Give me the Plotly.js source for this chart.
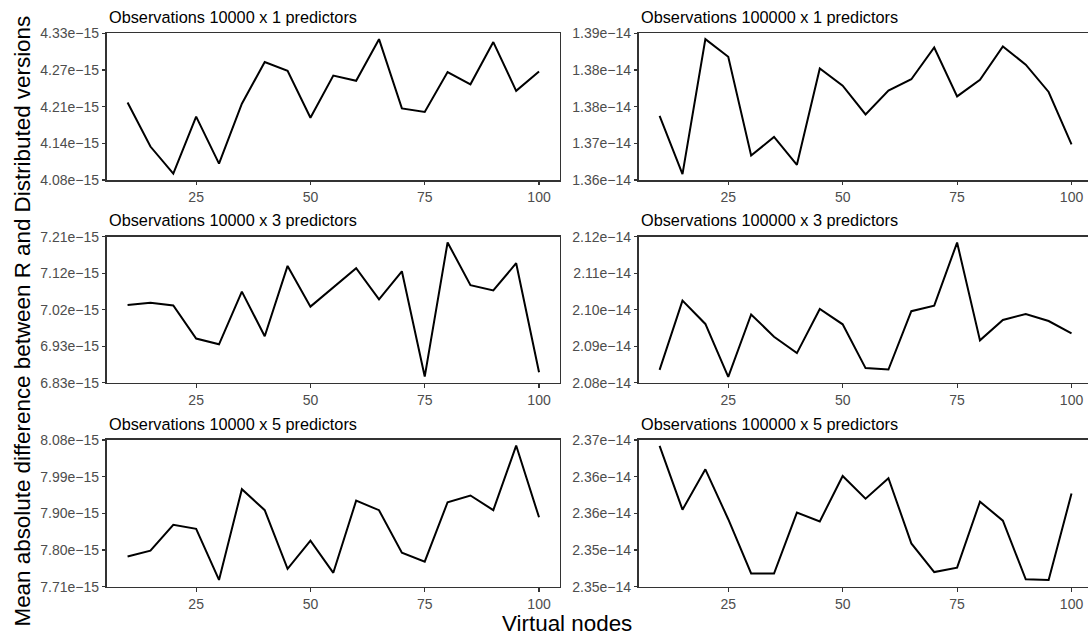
<!DOCTYPE html>
<html>
<head>
<meta charset="utf-8">
<script src="https://cdn.plot.ly/plotly-3.0.1.min.js"></script>
<style>
html,body{margin:0;padding:0;background:#fff;}
#chart{width:1088px;height:636px;}
</style>
</head>
<body>
<div id="chart"></div>
<script>
// ---- data ----
const virtualNodes = [10,15,20,25,30,35,40,45,50,55,60,65,70,75,80,85,90,95,100];

const obs10k_p1 = [4.212e-15,4.137e-15,4.091e-15,4.188e-15,4.108e-15,4.210e-15,4.281e-15,4.266e-15,4.186e-15,4.258e-15,4.249e-15,4.320e-15,4.202e-15,4.196e-15,4.264e-15,4.243e-15,4.315e-15,4.232e-15,4.265e-15];
const obs100k_p1 = [1.3731e-14,1.3612e-14,1.3888e-14,1.3852e-14,1.3650e-14,1.3688e-14,1.3631e-14,1.3828e-14,1.3793e-14,1.3734e-14,1.3783e-14,1.3806e-14,1.3871e-14,1.3771e-14,1.3805e-14,1.3873e-14,1.3836e-14,1.3780e-14,1.3673e-14];
const obs10k_p3 = [7.032e-15,7.038e-15,7.031e-15,6.945e-15,6.930e-15,7.067e-15,6.951e-15,7.134e-15,7.028e-15,7.078e-15,7.128e-15,7.047e-15,7.120e-15,6.846e-15,7.195e-15,7.084e-15,7.070e-15,7.141e-15,6.857e-15];
const obs100k_p3 = [2.0835e-14,2.1025e-14,2.0961e-14,2.0816e-14,2.0987e-14,2.0926e-14,2.0881e-14,2.1002e-14,2.0960e-14,2.0840e-14,2.0836e-14,2.0996e-14,2.1011e-14,2.1184e-14,2.0916e-14,2.0972e-14,2.0988e-14,2.0969e-14,2.0935e-14];
const obs10k_p5 = [7.786e-15,7.801e-15,7.866e-15,7.856e-15,7.727e-15,7.956e-15,7.903e-15,7.755e-15,7.826e-15,7.745e-15,7.927e-15,7.903e-15,7.796e-15,7.773e-15,7.923e-15,7.940e-15,7.903e-15,8.066e-15,7.885e-15];
const obs100k_p5 = [2.3672e-14,2.3585e-14,2.3640e-14,2.3572e-14,2.3498e-14,2.3498e-14,2.3581e-14,2.3569e-14,2.3631e-14,2.3600e-14,2.3628e-14,2.3539e-14,2.3500e-14,2.3506e-14,2.3596e-14,2.3570e-14,2.3490e-14,2.3489e-14,2.3607e-14];

const panelTitles = [
  "Observations 10000 x 1 predictors","Observations 100000 x 1 predictors",
  "Observations 10000 x 3 predictors","Observations 100000 x 3 predictors",
  "Observations 10000 x 5 predictors","Observations 100000 x 5 predictors"
];

const xTickVals = [25,50,75,100];

const yTickText1 = ["4.08e\u221215","4.14e\u221215","4.21e\u221215","4.27e\u221215","4.33e\u221215"];
const yTickText2 = ["1.36e\u221214","1.37e\u221214","1.38e\u221214","1.38e\u221214","1.39e\u221214"];
const yTickText3 = ["6.83e\u221215","6.93e\u221215","7.02e\u221215","7.12e\u221215","7.21e\u221215"];
const yTickText4 = ["2.08e\u221214","2.09e\u221214","2.10e\u221214","2.11e\u221214","2.12e\u221214"];
const yTickText5 = ["7.71e\u221215","7.80e\u221215","7.90e\u221215","7.99e\u221215","8.08e\u221215"];
const yTickText6 = ["2.35e\u221214","2.35e\u221214","2.36e\u221214","2.36e\u221214","2.37e\u221214"];

// axis limits (panel edges carry the end tick labels)
const yLimits1 = [4.08e-15, 4.33e-15];
const yLimits2 = [1.36e-14, 1.39e-14];
const yLimits3 = [6.83e-15, 7.21e-15];
const yLimits4 = [2.08e-14, 2.12e-14];
const yLimits5 = [7.71e-15, 8.08e-15];
const yLimits6 = [2.348e-14, 2.368e-14];

// ---- layout geometry ----
const W = 1088, H = 636;
const series = [obs10k_p1, obs100k_p1, obs10k_p3, obs100k_p3, obs10k_p5, obs100k_p5];
const tickTexts = [yTickText1,yTickText2,yTickText3,yTickText4,yTickText5,yTickText6];
const limits = [yLimits1,yLimits2,yLimits3,yLimits4,yLimits5,yLimits6];

const colPx = [[107, 559.6],[639, 1088]];
const xRanges = [[5.5,104.5],[5.5,103.6]];
const rowPx = [[33.3,180],[236.7,382.7],[440,586.7]];

const FONT = "Liberation Sans, Arial, Helvetica, sans-serif";
const traces = [];
const layout = {
  width: W, height: H,
  margin: {l:0,r:0,t:0,b:0},
  paper_bgcolor: "#ffffff", plot_bgcolor: "#ffffff",
  showlegend: false,
  font: {family: FONT},
  annotations: []
};

for (let i = 0; i < 6; i++) {
  const r = Math.floor(i/2), c = i % 2;
  const n = i + 1;
  const xa = "xaxis" + (n===1?"":n), ya = "yaxis" + (n===1?"":n);
  traces.push({
    x: virtualNodes, y: series[i], type: "scatter", mode: "lines",
    line: {color: "#000000", width: 2},
    xaxis: "x" + (n===1?"":n), yaxis: "y" + (n===1?"":n),
    hoverinfo: "skip"
  });
  const lim = limits[i];
  const tv = [0,1,2,3,4].map(k => lim[0] + (lim[1]-lim[0])*k/4);
  layout[xa] = {
    domain: [colPx[c][0]/W, colPx[c][1]/W],
    range: xRanges[c],
    anchor: "y" + (n===1?"":n),
    tickmode: "array", tickvals: xTickVals, ticktext: xTickVals.map(String),
    ticks: "outside", ticklen: 3.5, tickwidth: 1.1, tickcolor: "#333333",
    tickfont: {size: 14, color: "#4D4D4D", family: FONT},
    showline: true, linecolor: "#333333", linewidth: 1.6, mirror: true,
    showgrid: false, zeroline: false, automargin: false, fixedrange: true
  };
  layout[ya] = {
    domain: [1 - rowPx[r][1]/H, 1 - rowPx[r][0]/H],
    range: lim,
    anchor: "x" + (n===1?"":n),
    tickmode: "array", tickvals: tv, ticktext: tickTexts[i],
    ticks: "outside", ticklen: 3.5, tickwidth: 1.1, tickcolor: "#333333",
    tickfont: {size: 14, color: "#4D4D4D", family: FONT},
    showline: true, linecolor: "#333333", linewidth: 1.6, mirror: c === 0,
    showgrid: false, zeroline: false, automargin: false, fixedrange: true
  };
  layout.annotations.push({
    text: panelTitles[i], xref: "paper", yref: "paper",
    x: colPx[c][0]/W, y: 1 - (rowPx[r][0] - 16.5)/H,
    xanchor: "left", yanchor: "middle", showarrow: false,
    font: {size: 16.3, color: "#000000", family: FONT}
  });
}

layout.annotations.push({
  text: "Mean absolute difference between R and Distributed versions",
  xref: "paper", yref: "paper", x: 22/W, y: 1 - 321.5/H,
  xanchor: "center", yanchor: "middle", textangle: -90, showarrow: false,
  font: {size: 22.4, color: "#000000", family: FONT}
});
layout.annotations.push({
  text: "Virtual nodes",
  xref: "paper", yref: "paper", x: 566.5/W, y: 1 - 623/H,
  xanchor: "center", yanchor: "middle", showarrow: false,
  font: {size: 22.4, color: "#000000", family: FONT}
});

Plotly.newPlot("chart", traces, layout, {staticPlot: true, displayModeBar: false});
</script>
</body>
</html>
